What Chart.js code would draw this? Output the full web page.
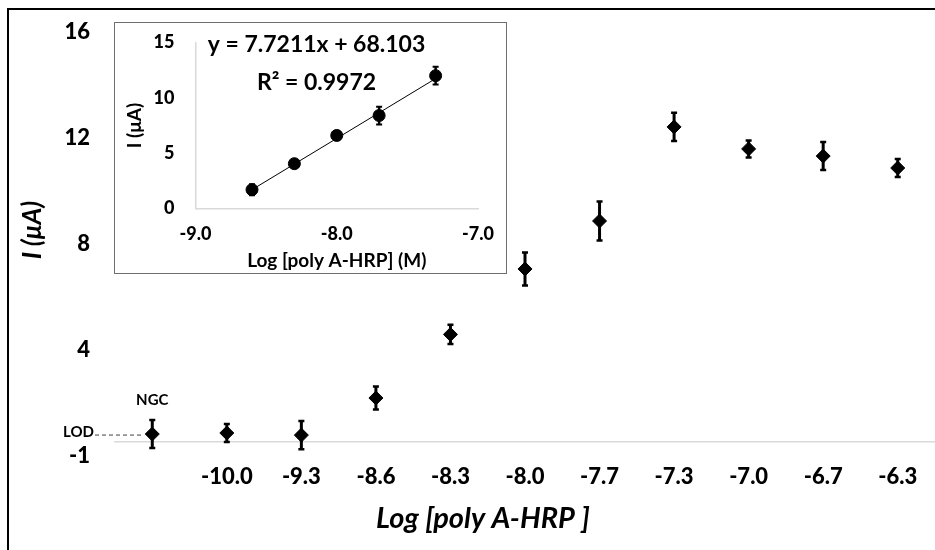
<!DOCTYPE html>
<html>
<head>
<meta charset="utf-8">
<script src="https://cdn.jsdelivr.net/npm/chart.js@4.4.1/dist/chart.umd.min.js"></script>
<style>
    html, body { margin: 0; padding: 0; background: #fff; }
    #wrap { position: relative; width: 935px; height: 550px; overflow: hidden; }
    #mainChart { position: absolute; left: 0; top: 0; }
    #frame { position: absolute; left: 7px; top: 8px; right: -5px; bottom: -5px;
             border-left: 2px solid #000; border-top: 2px solid #000; pointer-events: none; }
    #insetBox { position: absolute; left: 114px; top: 22px; width: 391px; height: 250px;
                border: 1.5px solid #6f6f6f; background: #fff; }
    #insetChart { display: block; }
</style>
</head>
<body>
<div id="wrap">
    <canvas id="mainChart" width="935" height="550"></canvas>
    <div id="frame"></div>
    <div id="insetBox"><canvas id="insetChart" width="391" height="250"></canvas></div>
</div>
<script>
// main plot: current vs log concentration (first point is the no-target control)
const categories = ['NGC', '-10.0', '-9.3', '-8.6', '-8.3', '-8.0', '-7.7', '-7.3', '-7.0', '-6.7', '-6.3'];
const currents = [0.30, 0.34, 0.26, 1.66, 4.06, 6.53, 8.34, 11.89, 11.06, 10.79, 10.34];
const currentErrors = [0.53, 0.34, 0.53, 0.43, 0.36, 0.62, 0.74, 0.53, 0.32, 0.53, 0.34];
const yTickValues = [0, 4, 8, 12, 16];
const yTickLabels = ['-1', '4', '8', '12', '16'];
const lodValue = 0.30;

// inset: linear range
const insetLogConc = [-8.6, -8.3, -8.0, -7.7, -7.3];
const insetCurrents = [1.7, 4.05, 6.6, 8.4, 12.0];
const insetErrors = [0.5, 0.3, 0.4, 0.8, 0.8];
const trendX = [-8.6, -7.3];
const trendY = [1.70, 11.74];
const equationText = 'y = 7.7211x + 68.103';
const r2Text = 'R² = 0.9972';

const FONT = 'Lato';

// drop the extra room chart.js keeps for tick labels, so the plot area sits where we put it
const noScalePadding = s => {
    s.paddingTop = 0; s.paddingBottom = 0; s.paddingLeft = 0; s.paddingRight = 0;
};

const errorBars = {
    id: 'errorBars',
    beforeDatasetsDraw(chart, args, opts) {
        const ctx = chart.ctx;
        const yScale = chart.scales.y;
        const meta = chart.getDatasetMeta(0);
        const values = chart.data.datasets[0].data;
        ctx.save();
        ctx.strokeStyle = '#000';
        meta.data.forEach((pt, i) => {
            const v = typeof values[i] === 'object' ? values[i].y : values[i];
            const e = opts.errors[i];
            const top = yScale.getPixelForValue(v + e);
            const bot = yScale.getPixelForValue(v - e);
            ctx.lineWidth = opts.width;
            ctx.beginPath();
            ctx.moveTo(pt.x, top);
            ctx.lineTo(pt.x, bot);
            ctx.stroke();
            ctx.lineWidth = opts.capThickness;
            ctx.beginPath();
            ctx.moveTo(pt.x - opts.capWidth / 2, top);
            ctx.lineTo(pt.x + opts.capWidth / 2, top);
            ctx.moveTo(pt.x - opts.capWidth / 2, bot);
            ctx.lineTo(pt.x + opts.capWidth / 2, bot);
            ctx.stroke();
        });
        ctx.restore();
    }
};

const mainText = {
    id: 'mainText',
    afterDraw(chart) {
        const { ctx, scales: { x, y } } = chart;
        const ngcX = x.getPixelForValue(0);
        const lodY = y.getPixelForValue(lodValue);
        ctx.save();
        ctx.fillStyle = '#000';
        ctx.textBaseline = 'middle';
        ctx.font = 'bold 15px ' + FONT;
        ctx.textAlign = 'center';
        ctx.fillText('NGC', ngcX, y.getPixelForValue(currents[0]) - 34);
        ctx.textAlign = 'right';
        ctx.fillText('LOD', 94, lodY - 2);
        ctx.strokeStyle = '#404040';
        ctx.lineWidth = 1;
        ctx.setLineDash([4, 3]);
        ctx.beginPath();
        ctx.moveTo(95, lodY + 1);
        ctx.lineTo(ngcX - 9, lodY + 1);
        ctx.stroke();
        ctx.setLineDash([]);
        ctx.textAlign = 'center';
        ctx.font = 'italic bold 29px ' + FONT;
        ctx.fillText('Log [poly A-HRP ]', 483, 519);
        ctx.restore();
    }
};

const insetText = {
    id: 'insetText',
    afterDraw(chart) {
        const ctx = chart.ctx;
        ctx.save();
        ctx.fillStyle = '#000';
        ctx.textAlign = 'center';
        ctx.textBaseline = 'middle';
        ctx.font = 'bold 23px ' + FONT;
        ctx.fillText(equationText, 201.5, 21.5);
        ctx.fillText(r2Text, 201.5, 59.5);
        ctx.restore();
    }
};

new Chart(document.getElementById('mainChart'), {
    type: 'line',
    data: {
        labels: categories,
        datasets: [{
            data: currents,
            showLine: false,
            pointStyle: 'rectRot',
            pointRadius: 7,
            pointHoverRadius: 7,
            backgroundColor: '#000',
            borderColor: '#000'
        }]
    },
    options: {
        responsive: false,
        animation: false,
        devicePixelRatio: 1,
        layout: { autoPadding: false, padding: { top: 18, right: 0, left: 0, bottom: 0 } },
        plugins: {
            legend: { display: false },
            tooltip: { enabled: false },
            errorBars: { errors: currentErrors, width: 3, capWidth: 6, capThickness: 2.5 }
        },
        scales: {
            x: {
                type: 'category',
                offset: true,
                grid: { display: false, drawTicks: false },
                border: { color: '#d9d9d9', width: 1.5 },
                ticks: {
                    padding: 22,
                    autoSkip: false,
                    maxRotation: 0,
                    color: '#000',
                    font: { family: FONT, size: 22, weight: '900' },
                    callback: (v, i) => i === 0 ? '' : categories[i]
                },
                afterFit: s => { noScalePadding(s); s.height = 108; }
            },
            y: {
                min: 0,
                max: 16,
                grid: { display: false, drawTicks: false },
                border: { display: false },
                afterBuildTicks: s => { s.ticks = yTickValues.map(v => ({ value: v })); },
                ticks: {
                    padding: 25,
                    labelOffset: 14,
                    color: '#000',
                    font: { family: FONT, size: 22, weight: '900' },
                    callback: v => yTickLabels[yTickValues.indexOf(v)]
                },
                title: {
                    display: true,
                    text: 'I (μA)',
                    color: '#000',
                    font: { family: FONT, size: 26, weight: 'bold', style: 'italic' },
                    padding: { top: 17, bottom: 0 }
                },
                afterFit: s => { noScalePadding(s); s.width = 115; }
            }
        }
    },
    plugins: [errorBars, mainText]
});

new Chart(document.getElementById('insetChart'), {
    type: 'scatter',
    data: {
        datasets: [{
            data: insetLogConc.map((x, i) => ({ x: x, y: insetCurrents[i] })),
            pointStyle: 'circle',
            pointRadius: 6,
            pointHoverRadius: 6,
            backgroundColor: '#000',
            borderColor: '#000',
            order: 0
        }, {
            type: 'line',
            data: trendX.map((x, i) => ({ x: x, y: trendY[i] })),
            showLine: true,
            borderColor: '#000',
            borderWidth: 1,
            pointRadius: 0,
            order: 1
        }]
    },
    options: {
        responsive: false,
        animation: false,
        devicePixelRatio: 1,
        layout: { autoPadding: false, padding: { top: 19.5, right: 28, left: 0, bottom: 0 } },
        plugins: {
            legend: { display: false },
            tooltip: { enabled: false },
            errorBars: { errors: insetErrors, width: 2.5, capWidth: 6, capThickness: 2 }
        },
        scales: {
            x: {
                type: 'linear',
                min: -9,
                max: -7,
                grid: { display: false, drawTicks: false },
                border: { color: '#d9d9d9', width: 1.5 },
                ticks: {
                    stepSize: 1,
                    padding: 15.2,
                    color: '#000',
                    font: { family: FONT, size: 18, weight: '900' },
                    callback: v => v.toFixed(1)
                },
                title: {
                    display: true,
                    text: 'Log [poly A-HRP] (M)',
                    color: '#000',
                    font: { family: FONT, size: 19, weight: 'bold' },
                    padding: { top: 0, bottom: 0.5 }
                },
                afterFit: s => { noScalePadding(s); s.height = 64.5; }
            },
            y: {
                min: 0,
                max: 15,
                grid: { display: false, drawTicks: false },
                border: { color: '#d9d9d9', width: 1.5 },
                ticks: {
                    stepSize: 5,
                    padding: 21,
                    color: '#000',
                    font: { family: FONT, size: 18, weight: '900' }
                },
                title: {
                    display: true,
                    text: 'I (μA)',
                    color: '#000',
                    font: { family: FONT, size: 19, weight: 'bold' },
                    padding: { top: 8, bottom: 0 }
                },
                afterFit: s => { noScalePadding(s); s.width = 80.5; }
            }
        }
    },
    plugins: [errorBars, insetText]
});
</script>
</body>
</html>
